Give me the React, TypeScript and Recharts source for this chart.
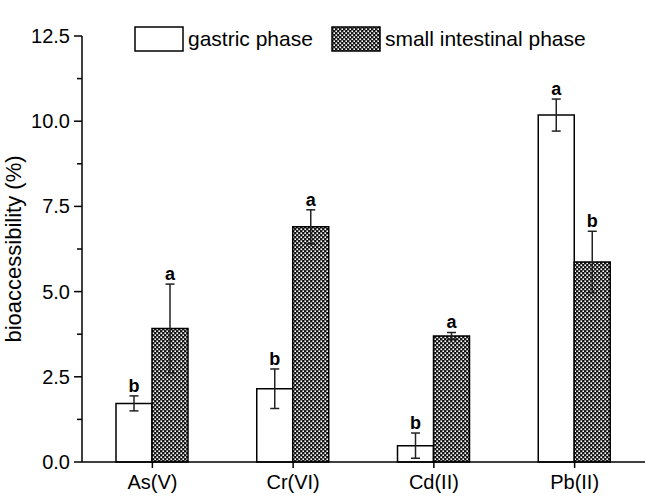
import React from 'react';
import { BarChart, Bar, XAxis, YAxis, ErrorBar, LabelList, Legend } from 'recharts';

const categories = ['As(V)', 'Cr(VI)', 'Cd(II)', 'Pb(II)'];
const gastric = [1.72, 2.15, 0.48, 10.18];
const gastricErr = [0.22, 0.58, 0.37, 0.47];
const gastricLetters = ['b', 'b', 'b', 'a'];
const intestinal = [3.92, 6.9, 3.7, 5.87];
const intestinalErr = [1.3, 0.5, 0.1, 0.9];
const intestinalLetters = ['a', 'a', 'a', 'b'];
const yTicks = [0, 1.25, 2.5, 3.75, 5, 6.25, 7.5, 8.75, 10, 11.25, 12.5];
const yLabel = 'bioaccessibility (%)';

const data = categories.map((c, i) => ({
  name: c,
  gastric: gastric[i],
  gErr: gastricErr[i],
  intestinal: intestinal[i],
  iErr: intestinalErr[i],
}));

const FONT = '"Liberation Sans", Arial, sans-serif';

const makeLetterLabel = (errs: number[], letters: string[]) => (props: any) => {
  const vb = props.viewBox || props;
  const x = Number(props.x ?? vb.x);
  const y = Number(props.y ?? vb.y);
  const w = Number(props.width ?? vb.width);
  const h = Number(props.height ?? vb.height);
  const idx = props.index;
  const v = Number(props.value);
  if (idx == null || !v) return null;
  const perUnit = h / v;
  const top = y - errs[idx] * perUnit;
  return (
    <text x={x + w / 2} y={top - 4} textAnchor="middle" fontFamily={FONT} fontWeight="bold" fontSize={18} fill="#000">
      {letters[idx]}
    </text>
  );
};

const YTick = (props: any) => {
  const { x, y, payload } = props;
  const v = payload.value;
  const major = Math.abs(v / 2.5 - Math.round(v / 2.5)) < 1e-6;
  return (
    <g>
      <line x1={x - (major ? 8 : 5)} x2={x} y1={y} y2={y} stroke="#000" strokeWidth={1.5} />
      {major && (
        <text x={x - 12} y={y} dy="0.35em" textAnchor="end" fontFamily={FONT} fontSize={20} fill="#000">
          {v.toFixed(1)}
        </text>
      )}
    </g>
  );
};

const YLabel = (props: any) => {
  const vb = props.viewBox || {};
  const cy = vb.y + vb.height / 2;
  return (
    <text
      transform={`translate(13, ${cy}) rotate(-90)`}
      textAnchor="middle"
      dy="0.35em"
      fontFamily={FONT}
      fontSize={22}
      fill="#000"
    >
      {yLabel}
    </text>
  );
};

const PatternShapes = () => (
  <>
    <rect width={4} height={4} fill="#111" />
    <rect x={0.4} y={0.4} width={1.7} height={1.7} fill="#fff" />
    <rect x={2.4} y={2.4} width={1.7} height={1.7} fill="#fff" />
  </>
);

const Swatch = ({ hatch }: { hatch: boolean }) => (
  <svg width={50} height={26} style={{ display: 'block' }}>
    <defs>
      <pattern id="xhatchLeg" patternUnits="userSpaceOnUse" width={4} height={4}>
        <PatternShapes />
      </pattern>
    </defs>
    <rect x={1} y={1} width={48} height={24} fill={hatch ? 'url(#xhatchLeg)' : '#fff'} stroke="#000" strokeWidth={1.5} />
  </svg>
);

const LegendContent = () => (
  <div style={{ display: 'flex', alignItems: 'center', fontFamily: FONT, fontSize: 21, color: '#000', whiteSpace: 'nowrap' }}>
    <Swatch hatch={false} />
    <span style={{ marginLeft: 4, marginRight: 18 }}>gastric phase</span>
    <Swatch hatch={true} />
    <span style={{ marginLeft: 4 }}>small intestinal phase</span>
  </div>
);

export default function App() {
  return (
    <div style={{ position: 'absolute', left: 0, top: 0, width: 645, height: 496, background: '#fff' }}>
      <BarChart
        width={645}
        height={496}
        data={data}
        margin={{ top: 10, right: 0, left: 0, bottom: 0 }}
        barGap={0}
        barSize={36}
      >
        <defs>
          <pattern id="xhatch" patternUnits="userSpaceOnUse" width={4} height={4}>
            <PatternShapes />
          </pattern>
        </defs>
        <XAxis
          dataKey="name"
          height={34}
          tickSize={6}
          tickMargin={7}
          axisLine={{ stroke: '#000', strokeWidth: 1.5 }}
          tickLine={{ stroke: '#000', strokeWidth: 1.5 }}
          tick={{ fill: '#000', fontFamily: FONT, fontSize: 20 }}
          interval={0}
        />
        <YAxis
          width={82}
          domain={[0, 12.5]}
          ticks={yTicks}
          interval={0}
          tickSize={0}
          tickMargin={0}
          tickLine={false}
          axisLine={{ stroke: '#000', strokeWidth: 1.5 }}
          tick={<YTick />}
          label={<YLabel />}
        />
        <Legend
          verticalAlign="top"
          align="left"
          content={<LegendContent />}
          wrapperStyle={{ position: 'absolute', top: 26, left: 134, width: 'auto' }}
        />
        <Bar dataKey="gastric" fill="#fff" stroke="#000" strokeWidth={1.5} isAnimationActive={false}>
          <ErrorBar dataKey="gErr" width={4.5} stroke="#222" strokeWidth={1.5} />
          <LabelList dataKey="gastric" content={makeLetterLabel(gastricErr, gastricLetters)} />
        </Bar>
        <Bar dataKey="intestinal" fill="url(#xhatch)" stroke="#000" strokeWidth={1.5} isAnimationActive={false}>
          <ErrorBar dataKey="iErr" width={4.5} stroke="#222" strokeWidth={1.5} />
          <LabelList dataKey="intestinal" content={makeLetterLabel(intestinalErr, intestinalLetters)} />
        </Bar>
      </BarChart>
    </div>
  );
}
